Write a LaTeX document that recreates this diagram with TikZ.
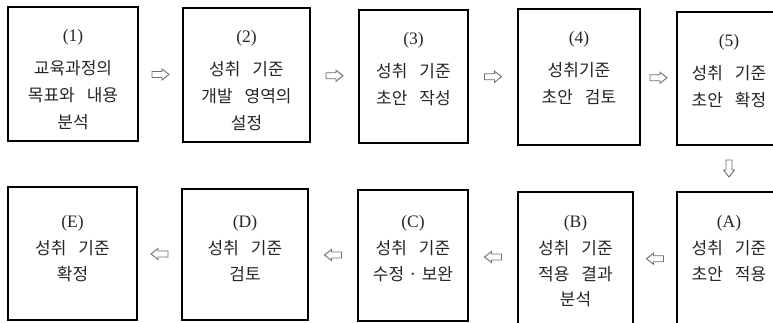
\documentclass[tikz,border=0pt]{standalone}
\usepackage{fontspec}
\setmainfont{Liberation Serif}
\newfontfamily\kr{Noto Sans CJK KR}
\usetikzlibrary{calc}
\definecolor{ink}{HTML}{262626}
\definecolor{arrowgray}{HTML}{6E6E6E}
\newcommand\ks{\hspace{12pt}}
\newcommand\lab[1]{{\rmfamily\fontsize{17.5}{17.5}\selectfont\rule{0pt}{12pt}#1}}
\tikzset{
  box/.style={draw=black, line width=1.5pt, inner sep=0pt},
  txttop/.style={align=center, anchor=north, inner sep=0pt, text=ink, font=\kr\fontsize{17}{27.3}\selectfont},
  txtbot/.style={align=center, anchor=north, inner sep=0pt, text=ink, font=\kr\fontsize{17}{25.5}\selectfont},
  barrow/.pic={\draw[arrowgray, line width=0.9pt, line join=miter]
    (-8.5,-3) -- (1.5,-3) -- (1.5,-5.5) -- (8.5,0) -- (1.5,5.5) -- (1.5,3) -- (-8.5,3) -- cycle;}
}
\begin{document}
\begin{tikzpicture}[x=1pt, y=-1pt]
\useasboundingbox (0,0) rectangle (773,322);
\fill[white] (0,0) rectangle (773,322);
\clip (0,0) rectangle (773,322);

% top row boxes
\node[box, minimum width=130pt, minimum height=134pt] (b1) at (73,74) {};
\node[box, minimum width=127pt, minimum height=134pt] (b2) at (246.5,75) {};
\node[box, minimum width=109pt, minimum height=133pt] (b3) at (413.5,76.5) {};
\node[box, minimum width=122pt, minimum height=136pt] (b4) at (579,77) {};
\node[box, minimum width=104pt, minimum height=133pt] (b5) at (729,78.5) {};
% bottom row boxes
\node[box, minimum width=129pt, minimum height=133pt] (bE) at (72.5,253.5) {};
\node[box, minimum width=126pt, minimum height=131pt] (bD) at (245,254.5) {};
\node[box, minimum width=110pt, minimum height=131pt] (bC) at (413,255.5) {};
\node[box, minimum width=115pt, minimum height=133pt] (bB) at (575.5,258.5) {};
\node[box, minimum width=104pt, minimum height=134pt] (bA) at (729,259) {};

% top row texts
\node[txttop] (t1) at ([yshift=-23.3pt]b1.north) {\lab{(1)}\\[5pt]교육과정의\\목표와\ks 내용\\분석};
\node[txttop] (t2) at ([yshift=-23.3pt]b2.north) {\lab{(2)}\\[5pt]성취\ks 기준\\개발\ks 영역의\\설정};
\node[txttop] (t3) at ([yshift=-23.3pt]b3.north) {\lab{(3)}\\[5pt]성취\ks 기준\\초안\ks 작성};
\node[txttop] (t4) at ([yshift=-23.3pt]b4.north) {\lab{(4)}\\[5pt]성취기준\\초안\ks 검토};
\node[txttop] (t5) at ([yshift=-23.3pt]b5.north) {\lab{(5)}\\[5pt]성취\ks 기준\\초안\ks 확정};

% bottom row texts
\coordinate (rowtwo) at (0,215.3);
\node[txtbot] (tE) at (bE.north |- rowtwo) {\lab{(E)}\\[1.5pt]성취\ks 기준\\확정};
\node[txtbot] (tD) at (bD.north |- rowtwo) {\lab{(D)}\\[1.5pt]성취\ks 기준\\검토};
\node[txtbot] (tC) at (bC.north |- rowtwo) {\lab{(C)}\\[1.5pt]성취\ks 기준\\수정\hspace{4pt}·\hspace{4pt}보완};
\node[txtbot] (tB) at (bB.north |- rowtwo) {\lab{(B)}\\[1.5pt]성취\ks 기준\\적용\ks 결과\\분석};
\node[txtbot] (tA) at (bA.north |- rowtwo) {\lab{(A)}\\[1.5pt]성취\ks 기준\\초안\ks 적용};

% arrows
\coordinate (m12) at ($(b1.east)!0.5!(b2.west)$);
\coordinate (m23) at ($(b2.east)!0.5!(b3.west)$);
\coordinate (m34) at ($(b3.east)!0.5!(b4.west)$);
\coordinate (m45) at ($(b4.east)!0.5!(b5.west)$);
\coordinate (m5A) at ($(b5.south)!0.5!(bA.north)$);
\coordinate (mBA) at ($(bB.east)!0.5!(bA.west)$);
\coordinate (mCB) at ($(bC.east)!0.5!(bB.west)$);
\coordinate (mDC) at ($(bD.east)!0.5!(bC.west)$);
\coordinate (mED) at ($(bE.east)!0.5!(bD.west)$);
\pic at (m12) {barrow};
\pic at (m23) {barrow};
\pic at (m34) {barrow};
\pic at (m45) {barrow};
\pic[rotate=-90] at (m5A) {barrow};
\pic[rotate=180] at (mBA) {barrow};
\pic[rotate=180] at (mCB) {barrow};
\pic[rotate=180] at (mDC) {barrow};
\pic[rotate=180] at (mED) {barrow};
\end{tikzpicture}
\end{document}
